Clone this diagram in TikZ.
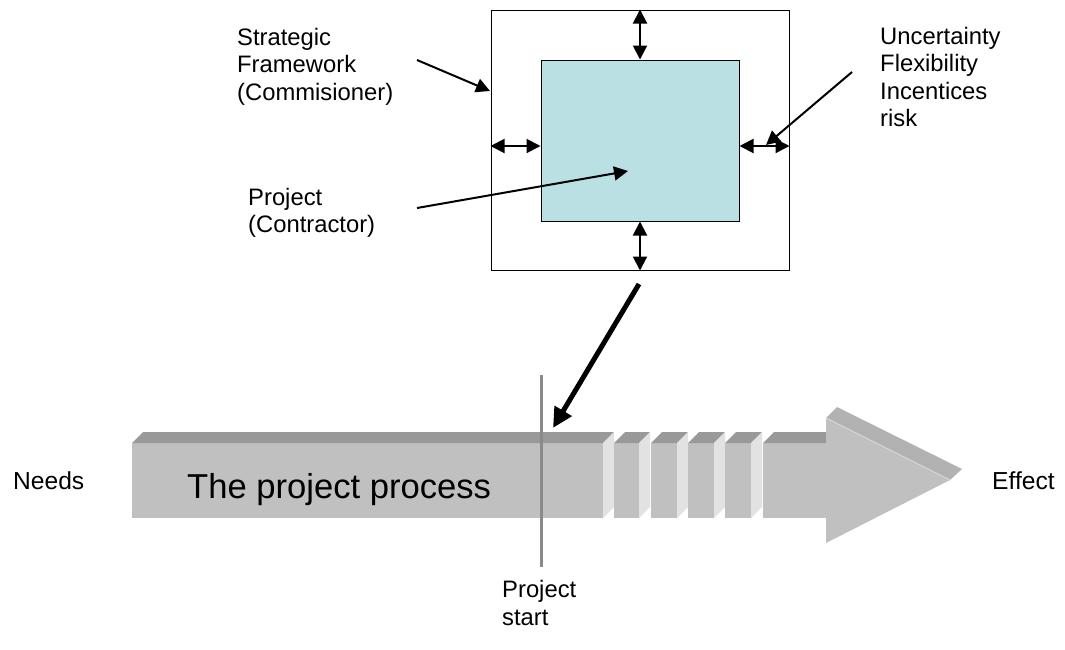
\documentclass[tikz,border=0pt]{standalone}
\usepackage{fontspec}
\setmainfont{Liberation Sans}
\usetikzlibrary{arrows.meta}
\definecolor{innerfill}{RGB}{187,224,227}
\definecolor{shaftfront}{RGB}{192,192,192}
\definecolor{shafttop}{RGB}{153,153,153}
\definecolor{shaftside}{RGB}{226,226,226}
\definecolor{headtop}{RGB}{178,178,178}
\definecolor{headedge}{RGB}{214,214,214}
\definecolor{startline}{RGB}{138,138,138}
\tikzset{
  lbl/.style={anchor=base west, inner sep=0pt, align=left,
    font=\fontsize{23.8}{27.5}\selectfont},
  endlbl/.style={anchor=base west, inner sep=0pt,
    font=\fontsize{24.6}{28}\selectfont},
  thin arrow/.style={line width=2pt, -{Triangle[length=14pt,width=14pt]}},
  both arrow/.style={line width=2pt, {Triangle[length=14pt,width=14pt]}-{Triangle[length=14pt,width=14pt]}},
  fat arrow/.style={line width=5pt, -{Triangle[length=20pt,width=19pt]}},
  frontface/.style={fill=shaftfront},
  topface/.style={fill=shafttop},
  sideface/.style={fill=shaftside},
}
\begin{document}
\begin{tikzpicture}[x=1pt,y=-1pt]
\useasboundingbox (0,0) rectangle (1065,649);

% ---- framework boxes ----
\node[draw, line width=1pt, minimum width=298pt, minimum height=260pt, inner sep=0pt] (outer) at (640,140) {};
\node[draw, line width=1pt, fill=innerfill, minimum width=198pt, minimum height=161pt, inner sep=0pt] (inner) at (640,140.5) {};

\draw[both arrow] (outer.north) -- (inner.north);
\draw[both arrow] (inner.south) -- (outer.south);
\draw[both arrow] ([yshift=-6pt]outer.west) -- ([yshift=-5.5pt]inner.west);
\draw[both arrow] ([yshift=-5.5pt]inner.east) -- ([yshift=-6pt]outer.east);

% ---- labels around the boxes (anchored at the last line's baseline) ----
\node[lbl] (strat) at (237,100) {Strategic\\Framework\\(Commisioner)};
\node[lbl] (unc) at (880,126.5) {Uncertainty\\Flexibility\\Incentices\\risk};
\node[lbl] (proj) at (248,232.5) {Project\\(Contractor)};

\coordinate (stratFrom) at (417,60);
\coordinate (stratTo) at (490,91);
\coordinate (uncFrom) at (852,72);
\coordinate (uncTo) at (766,145);
\coordinate (projFrom) at (417,208);
\coordinate (projTo) at (628,171);
\draw[thin arrow] (stratFrom) -- (stratTo);
\draw[thin arrow] (uncFrom) -- (uncTo);
\draw[thin arrow] (projFrom) -- (projTo);

% ---- the process arrow (extruded look) ----
% shaft: first long block
\path[frontface] (132,443) rectangle (603,518);
\path[topface] (132,443) -- (143,432) -- (614,432) -- (603,443) -- cycle;
\path[sideface] (603,443) -- (614,432) -- (614,507) -- (603,518) -- cycle;
% short blocks
\foreach \xl/\xr in {614/639, 651/677, 688/714, 725/751}{
  \path[frontface] (\xl,443) rectangle (\xr,518);
  \path[topface] (\xl,443) -- (\xl+11,432) -- (\xr+11,432) -- (\xr,443) -- cycle;
  \path[sideface] (\xr,443) -- (\xr+11,432) -- (\xr+11,507) -- (\xr,518) -- cycle;
}
% last block and head
\path[frontface] (763,443) rectangle (827,518);
\path[topface] (763,443) -- (774,432) -- (837,432) -- (826,443) -- cycle;
\path[fill=headtop] (826,418) -- (837,407) -- (962,469) -- (950,480) -- cycle;
\path[frontface] (826,418) -- (950,480) -- (826,543) -- cycle;
\draw[headedge, line width=1pt] (826,418) -- (950,480);

\node[anchor=base west, inner sep=0pt, font=\fontsize{34.6}{40}\selectfont] (process) at (187,498) {The project process};
\node[endlbl] (needs) at (13,489) {Needs};
\node[endlbl] (effect) at (992,489) {Effect};

% ---- project start marker ----
\coordinate (startTop) at (541,375);
\coordinate (startBot) at (541,567);
\draw[startline, line width=3pt] (startTop) -- (startBot);
\node[lbl] (pstart) at (502,625) {Project\\start};

% ---- link from the framework down to the process ----
\coordinate (linkFrom) at (639,284);
\coordinate (linkTo) at (553,428);
\draw[fat arrow] (linkFrom) -- (linkTo);
\end{tikzpicture}
\end{document}
